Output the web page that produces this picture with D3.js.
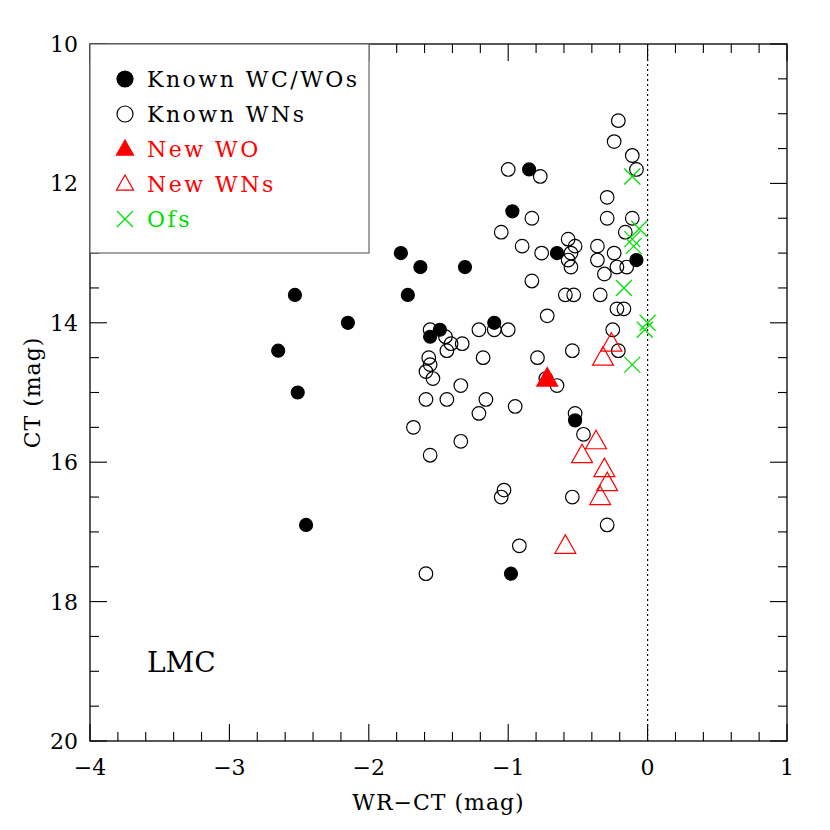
<!DOCTYPE html>
<html><head><meta charset="utf-8">
<script src="https://cdn.jsdelivr.net/npm/d3@7"></script>
<style>body{margin:0;background:#fff}text{font-family:"DejaVu Serif","Liberation Serif",serif}</style>
</head><body><svg id="c" width="830" height="830"></svg>
<script>
const knownWC = [[-2.53,13.6],[-2.65,14.4],[-2.51,15.0],[-2.15,14.0],[-2.45,16.9],[-1.77,13.0],[-1.63,13.2],[-1.31,13.2],[-1.72,13.6],[-1.56,14.2],[-1.49,14.1],[-1.10,14.0],[-0.85,11.8],[-0.97,12.4],[-0.65,13.0],[-0.08,13.1],[-0.52,15.4],[-0.98,17.6]];
const knownWN = [[-0.21,11.1],[-0.24,11.4],[-0.11,11.6],[-0.08,11.8],[-1.00,11.8],[-0.77,11.9],[-0.29,12.2],[-0.83,12.5],[-0.29,12.5],[-0.11,12.5],[-1.05,12.7],[-0.16,12.7],[-0.90,12.9],[-0.57,12.8],[-0.52,12.9],[-0.76,13.0],[-0.55,13.0],[-0.57,13.1],[-0.55,13.2],[-0.36,12.9],[-0.36,13.1],[-0.24,13.0],[-0.22,13.2],[-0.15,13.2],[-0.31,13.3],[-0.83,13.4],[-0.59,13.6],[-0.53,13.6],[-0.34,13.6],[-0.22,13.8],[-0.17,13.8],[-0.72,13.9],[-0.25,14.1],[-1.21,14.1],[-1.10,14.1],[-1.00,14.1],[-0.54,14.4],[-0.21,14.4],[-1.56,14.1],[-1.45,14.2],[-1.41,14.3],[-1.33,14.3],[-1.44,14.4],[-1.57,14.5],[-1.56,14.6],[-1.59,14.7],[-1.54,14.8],[-1.18,14.5],[-0.79,14.5],[-0.73,14.8],[-0.65,14.9],[-1.34,14.9],[-1.59,15.1],[-1.44,15.1],[-1.16,15.1],[-0.95,15.2],[-1.21,15.3],[-0.52,15.3],[-1.68,15.5],[-0.46,15.6],[-1.34,15.7],[-1.56,15.9],[-1.03,16.4],[-1.05,16.5],[-0.54,16.5],[-0.29,16.9],[-0.92,17.2],[-1.59,17.6]];
const newWO = [[-0.72,14.8]];
const newWN = [[-0.26,14.3],[-0.32,14.5],[-0.37,15.7],[-0.47,15.9],[-0.31,16.1],[-0.29,16.3],[-0.34,16.5],[-0.59,17.2]];
const ofs = [[-0.11,11.9],[-0.06,12.65],[-0.11,12.8],[-0.10,12.9],[-0.17,13.5],[0.0,14.0],[-0.02,14.1],[-0.11,14.6]];
const xTicks = [-4,-3,-2,-1,0,1];
const yTicks = [10,12,14,16,18,20];
const legendLabels = ["Known WC/WOs","Known WNs","New WO","New WNs","Ofs"];

const svg = d3.select("#c");
const L=90,R=787,T=44,B=741;
const x = d3.scaleLinear().domain([-4,1]).range([L,R]);
const y = d3.scaleLinear().domain([10,20]).range([T,B]);
const g = svg.append("g");
g.append("rect").attr("x",L).attr("y",T).attr("width",R-L).attr("height",B-T).attr("fill","none").attr("stroke","#000").attr("stroke-width",1.3);
const minX = d3.range(-4,1.001,0.2), minY = d3.range(10,20.001,0.5);
function tk(x1,y1,x2,y2){g.append("line").attr("x1",x1).attr("y1",y1).attr("x2",x2).attr("y2",y2).attr("stroke","#000").attr("stroke-width",1.1);}
minX.forEach(v=>{const maj=Math.abs(v-Math.round(v))<1e-6;const l=maj?17:9;tk(x(v),B,x(v),B-l);tk(x(v),T,x(v),T+l);});
minY.forEach(v=>{const maj=Math.abs(v/2-Math.round(v/2))<1e-6;const l=maj?17:9;tk(L,y(v),L+l,y(v));tk(R,y(v),R-l,y(v));});
xTicks.forEach(v=>g.append("text").attr("x",x(v)).attr("y",B+34).attr("text-anchor","middle").attr("font-size",22).text(v<0?"\u2212"+(-v):v));
yTicks.forEach(v=>g.append("text").attr("x",L-12).attr("y",y(v)+8).attr("text-anchor","end").attr("font-size",22).text(v));
g.append("text").attr("x",(L+R)/2).attr("y",810).attr("text-anchor","middle").attr("font-size",22).attr("letter-spacing",1).text("WR\u2212CT (mag)");
g.append("text").attr("transform",`translate(40,${(T+B)/2}) rotate(-90)`).attr("text-anchor","middle").attr("font-size",22).attr("letter-spacing",1).text("CT (mag)");
g.append("text").attr("x",147).attr("y",672).attr("font-size",28).text("LMC");
g.append("line").attr("x1",x(0)).attr("x2",x(0)).attr("y1",T).attr("y2",B).attr("stroke","#000").attr("stroke-dasharray","2,3").attr("stroke-width",1.2);
const tri=r=>`M0,${-r}L${r*0.95},${r*0.68}L${-r*0.95},${r*0.68}Z`;
function circ(sel,fill){sel.append("circle").attr("r",fill?6.5:6.8).attr("fill",fill?"#000":"none").attr("stroke","#000").attr("stroke-width",1.2);}
function triS(sel,fill){sel.append("path").attr("d",tri(11)).attr("fill",fill?"red":"none").attr("stroke","red").attr("stroke-width",1.2);}
function crs(sel){sel.append("path").attr("d","M-8,-8L8,8M-8,8L8,-8").attr("stroke","#00e000").attr("stroke-width",1.3);}
function plot(data,fn){data.forEach(d=>{const s=g.append("g").attr("transform",`translate(${x(d[0])},${y(d[1])})`);fn(s);});}
plot(knownWN,s=>circ(s,false));
plot(knownWC,s=>circ(s,true));
plot(newWN,s=>triS(s,false));
plot(newWO,s=>triS(s,true));
plot(ofs,s=>crs(s));
g.append("rect").attr("x",L).attr("y",T).attr("width",369-L).attr("height",253-T).attr("fill","#fff").attr("stroke","#666").attr("stroke-width",1.2);
const lc=["#000","#000","red","red","#00e000"];
const lfn=[s=>circ(s,true),s=>circ(s,false),s=>triS(s,true),s=>triS(s,false),s=>crs(s)];
legendLabels.forEach((t,i)=>{const yy=79+i*35;const s=g.append("g").attr("transform",`translate(125,${yy})`);lfn[i](s);
 if(i>=2&&i<=3) s.select("path").attr("d",tri(9));
 if(i<2) s.select("circle").attr("r",8);
 g.append("text").attr("x",147).attr("y",yy+8).attr("font-size",22).attr("letter-spacing",2.5).attr("fill",lc[i]).text(t);});
</script></body></html>
